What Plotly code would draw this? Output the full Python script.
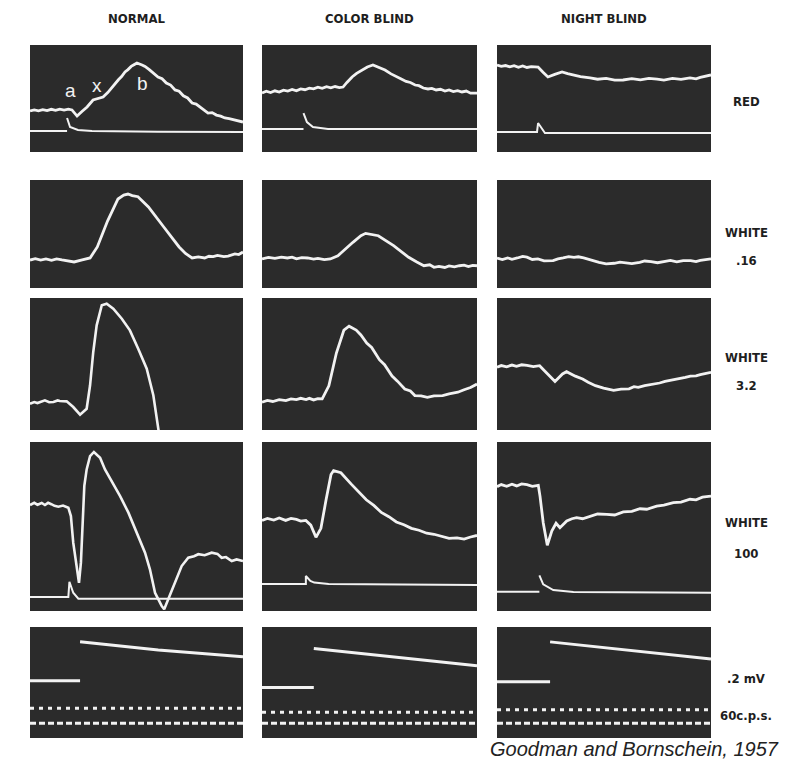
import plotly.graph_objects as go

# ---------------- text ----------------
columns = ["NORMAL", "COLOR BLIND", "NIGHT BLIND"]
row_labels = [["RED"], ["WHITE", ".16"], ["WHITE", "3.2"], ["WHITE", "100"], [".2 mV", "60c.p.s."]]
citation = "Goodman and Bornschein, 1957"
wave_letters = ["a", "x", "b"]
wave_letter_t = [18.8, 31.5, 52.6]
wave_letter_v = [57.9, 61.7, 63.6]

# ---------------- data: time (% of sweep), potential (% of panel height) ----------------
# Row 1: RED stimulus
red_normal_t = [0, 2, 4, 6, 8, 10, 12, 14, 16, 18, 19.7, 22.1, 24.5, 26.8, 29.6, 32, 34.3, 36.5, 38.5, 40, 41.5, 43, 44.6, 46, 47.5, 49, 50.2, 52.6, 54, 56, 58, 60.1, 62, 64, 66, 68.1, 70, 72, 74, 76.1, 78, 80, 82, 83.6, 85.5, 87.5, 89.5, 91.5, 93.5, 95.5, 97.5, 100]
red_normal_v = [38.3, 39.4, 38.5, 39.6, 38.7, 39.9, 38.9, 40.1, 39.2, 40.0, 39.3, 33.6, 38.0, 42.1, 48.6, 50.0, 51.4, 55.5, 60.7, 63.5, 67.5, 70.5, 74.8, 77.0, 80.0, 81.8, 83.2, 81.3, 80.0, 77.0, 74.0, 70.1, 68.5, 64.5, 62.5, 58.0, 56.8, 52.5, 50.5, 45.8, 44.8, 41.5, 39.0, 36.4, 36.8, 34.5, 33.5, 31.8, 31.2, 30.0, 29.3, 28.0]
red_normal_stim_t = [0, 17.4, None, 17.4, 18.8, 22.5, 29.1, 60, 100]
red_normal_stim_v = [19.6, 19.6, None, 31.8, 23.4, 20.6, 19.6, 19.0, 18.7]

red_cb_t = [0, 2, 4, 6, 8, 10, 12, 14, 16, 18, 20, 22, 24, 26, 28, 30, 32, 34, 36, 37.7, 39.5, 41.9, 44, 46.5, 49, 51.6, 54, 57.2, 60, 63.3, 65, 67, 69, 71.2, 73, 75, 77.2, 79, 81, 83, 85.1, 87, 89, 91, 93, 95, 97, 100]
red_cb_v = [55.1, 56.8, 55.6, 57.2, 56.0, 57.8, 57.0, 58.4, 57.2, 59.0, 58.2, 59.6, 59.0, 60.6, 59.5, 61.0, 60.0, 61.2, 60.2, 60.7, 65.0, 70.1, 73.5, 76.6, 79.5, 81.3, 79.5, 76.6, 73.0, 69.2, 68.0, 66.0, 65.0, 62.6, 62.0, 59.8, 58.9, 59.5, 58.0, 58.6, 57.0, 58.0, 56.5, 57.3, 56.1, 57.0, 55.0, 55.1]
red_cb_stim_t = [0, 19.3, None, 19.3, 20.9, 23.7, 30.7, 100]
red_cb_stim_v = [21.5, 21.5, None, 36.4, 28.0, 23.4, 21.5, 21.5]

red_nb_t = [0, 2, 4, 6, 8, 10, 12, 14, 16, 19.2, 21.5, 23.8, 27, 30.4, 33, 35.5, 39, 43.5, 47, 51, 55, 58.9, 63, 67, 71, 74.8, 78, 82, 86, 90.2, 93, 95, 97, 100]
red_nb_v = [81.3, 80.0, 80.8, 79.6, 80.6, 79.2, 80.4, 79.0, 79.8, 79.4, 74.5, 70.1, 72.5, 74.8, 73.2, 72.0, 70.5, 69.2, 68.0, 68.8, 67.2, 67.3, 68.6, 67.4, 68.8, 68.2, 67.2, 68.8, 67.8, 69.2, 68.4, 69.8, 70.6, 72.0]
red_nb_stim_t = [0, 18.7, 19.2, 22.4, 100]
red_nb_stim_v = [18.7, 18.7, 27.1, 17.8, 17.8]

# Row 2: WHITE .16
w016_normal_t = [0, 2.5, 5, 7.5, 10.1, 12.5, 15, 17.5, 20.7, 24.5, 28.2, 31.6, 36.4, 41.3, 44, 46.0, 48, 50.7, 55.6, 62.8, 70.0, 73, 76.1, 79, 82.0, 84, 86, 88, 89.2, 91, 93, 95, 96.2, 98, 100]
w016_normal_v = [25.9, 27.2, 25.8, 27.0, 25.6, 27.0, 26.0, 25.2, 24.1, 26.0, 27.8, 38.0, 62.0, 82.4, 86.0, 87.0, 85.6, 84.5, 75.0, 56.5, 38.0, 32.0, 27.8, 28.8, 27.8, 29.4, 29.0, 30.2, 29.9, 29.0, 29.5, 30.8, 31.5, 31.0, 33.3]

w016_cb_t = [0, 3, 6, 9, 11.8, 14, 16, 18.5, 21.2, 24, 26, 29, 31.8, 35.3, 42.3, 46, 48.2, 50, 54.1, 61.2, 68.2, 72, 75.3, 78, 80, 82.3, 85, 87, 89.5, 91.8, 94, 96, 98, 100]
w016_cb_v = [26.9, 28.4, 27.4, 28.6, 27.8, 28.6, 27.0, 28.2, 27.8, 26.8, 27.4, 26.2, 26.9, 29.9, 42.3, 48.5, 50.6, 50.0, 48.4, 39.2, 28.4, 24.0, 20.6, 21.5, 19.2, 20.0, 19.0, 20.4, 19.6, 20.6, 21.2, 19.8, 21.0, 20.6]

w016_nb_t = [0, 2.5, 5, 7, 9.5, 12, 14, 16.5, 19.1, 22, 26.2, 28.5, 30.9, 33.5, 36, 38, 40.5, 44, 47.7, 51, 54.8, 57.5, 60, 63, 66.7, 69, 72, 75, 78.6, 81, 84, 87, 90.5, 93, 95, 97.5, 100]
w016_nb_v = [27.8, 26.4, 27.9, 26.6, 27.8, 29.2, 28.5, 26.4, 26.9, 25.2, 25.3, 27.0, 27.8, 29.0, 28.3, 28.9, 27.8, 25.6, 23.8, 22.4, 22.9, 24.0, 23.6, 22.6, 23.8, 25.0, 24.5, 23.4, 24.7, 25.6, 24.2, 25.4, 25.3, 24.4, 25.6, 26.4, 26.9]

# Row 3: WHITE 3.2
w32_normal_t = [0, 2, 3.5, 5.5, 7.0, 9, 11, 13, 14, 17.2, 20.3, 23.5, 26.6, 28.2, 29.7, 31.3, 33.7, 36.0, 39.1, 43.1, 46.9, 50.8, 54.8, 57.9, 60.2, 60.6]
w32_normal_v = [19.9, 21.2, 20.4, 21.8, 22.5, 21.0, 21.2, 22.4, 22.0, 21.7, 17.4, 11.6, 16.1, 33.9, 59.1, 79.3, 94.5, 95.7, 91.9, 84.3, 75.5, 61.6, 46.4, 26.3, 1.0, -3]

w32_cb_t = [0, 2.5, 5, 8, 11.1, 13.5, 16, 18, 20.5, 22, 24, 26, 28.0, 31.1, 34.6, 38.1, 40.5, 43.8, 46, 48.7, 51, 54.6, 57, 60.5, 63, 66.4, 69, 71.1, 74, 76.9, 80, 84.0, 87, 91.1, 94, 97, 100]
w32_cb_v = [21.1, 22.4, 21.6, 23.0, 22.3, 23.6, 23.0, 24.0, 23.1, 24.0, 22.8, 23.8, 23.6, 33.5, 58.3, 75.7, 78.6, 75.7, 72.0, 65.8, 62.5, 53.3, 49.5, 40.9, 37.0, 31.1, 29.5, 26.1, 25.8, 24.8, 25.8, 26.1, 27.4, 28.6, 30.5, 32.2, 34.8]

w32_nb_t = [0, 2, 4.5, 7, 9.1, 11.5, 14, 17, 19.9, 23.5, 27.1, 30.6, 32.5, 36.6, 40, 42.6, 46, 49.8, 54.5, 58, 61.7, 64, 66, 69, 71.3, 74, 76, 78.5, 80.8, 83, 85, 88, 90.4, 93, 95, 97.5, 100]
w32_nb_v = [47.5, 48.8, 47.9, 49.2, 48.3, 49.4, 48.9, 48.0, 48.7, 42.5, 36.7, 42.5, 44.2, 40.8, 38.6, 36.2, 33.6, 31.7, 30.0, 31.0, 31.2, 32.8, 32.3, 33.6, 34.2, 34.8, 35.6, 36.8, 37.5, 38.2, 38.4, 39.8, 40.8, 41.0, 42.0, 42.6, 43.7]

# Row 4: WHITE 100
w100_normal_t = [0, 2, 3.5, 5.5, 7.0, 8.5, 10, 11.5, 13.3, 15.5, 18.0, 19.2, 20.3, 21.9, 23.0, 23.9, 24.6, 25.5, 26.6, 28.2, 30.0, 32.9, 35.2, 38.4, 42.3, 46.2, 50.1, 54.0, 56.3, 58.7, 61.8, 63.0, 64.9, 68.1, 71.2, 74.3, 77, 79.0, 82, 85.3, 88, 90.0, 92, 94.7, 97, 100]
w100_normal_v = [62.7, 64.0, 62.9, 63.9, 62.7, 64.0, 63.2, 62.2, 61.7, 62.4, 61.1, 56.2, 40.4, 24.7, 16.7, 28.6, 50.3, 74.0, 83.8, 91.7, 94.1, 90.7, 83.8, 76.9, 68.0, 58.2, 46.3, 34.5, 24.7, 10.8, 3.0, 1.0, 6.9, 16.7, 26.6, 31.5, 32.4, 33.6, 33.0, 34.5, 33.8, 31.5, 31.9, 29.6, 30.5, 29.6]
w100_normal_stim_t = [0, 18.0, 18.5, 20.3, 22.7, 100]
w100_normal_stim_v = [8.3, 8.3, 17.3, 10.8, 7.3, 7.3]

w100_cb_t = [0, 2.5, 5.5, 8, 11.0, 13.5, 16, 18, 20.4, 22.7, 25.1, 27.4, 29.8, 32.1, 33.3, 36.7, 41.4, 45, 48.5, 52, 55.5, 59, 62.5, 66, 69.5, 73, 76.6, 80, 83.6, 87, 90.7, 94, 97, 100]
w100_cb_v = [53.6, 54.8, 53.8, 55.0, 53.6, 54.8, 54.2, 53.2, 53.6, 50.8, 43.6, 48.9, 65.8, 80.8, 83.1, 81.8, 75.2, 70.2, 65.8, 62.5, 58.3, 55.8, 52.7, 51.0, 48.9, 47.8, 46.0, 45.4, 44.2, 43.0, 43.3, 42.6, 43.8, 44.7]
w100_cb_stim_t = [0, 20.4, 20.4, 22.5, 24.3, 31, 100]
w100_cb_stim_v = [16.0, 16.0, 20.7, 17.8, 16.8, 16.0, 15.4]

w100_nb_t = [0, 2, 4.5, 7, 9.2, 11.5, 14, 16.5, 19.3, 20.1, 21.6, 23.5, 25.6, 27.6, 29.4, 32.6, 35, 37.2, 40, 43.5, 47, 51.3, 55, 59.0, 63, 66.8, 70, 74.6, 78, 82.4, 86, 90.2, 93, 96, 100]
w100_nb_v = [73.6, 74.8, 73.8, 75.0, 74.0, 75.2, 74.8, 73.8, 74.4, 68.0, 52.2, 38.9, 47.3, 51.9, 49.3, 53.3, 54.6, 55.2, 54.6, 56.2, 57.4, 57.2, 56.8, 58.6, 59.0, 60.5, 60.2, 62.1, 62.6, 64.1, 64.4, 66.1, 65.8, 67.4, 68.0]
w100_nb_stim_t = [0, 19.8, None, 19.8, 21.6, 26.3, 35.7, 100]
w100_nb_stim_v = [11.4, 11.4, None, 21.1, 15.8, 12.4, 11.2, 10.8]

# Row 5: calibration (.2 mV step) and 60 c.p.s. timing
cal_low_t = [[0, 23.5], [0, 24.1], [0, 24.8]]
cal_low_v = [51.6, 45.4, 50.7]
cal_high_t = [[23.5, 60.2, 100], [24.1, 61.9, 100], [24.8, 62.1, 100]]
cal_high_v = [[86.8, 79.3, 73.2], [80.6, 73.0, 65.0], [86.6, 78.8, 71.1]]
timing_upper_v = [26.8, 23.2, 25.4]
timing_lower_v = [13.2, 13.4, 13.4]

# ---------------- layout geometry ----------------
W, H = 800, 771
PANEL_X = [(30, 243), (262, 477), (497, 711)]
PANEL_Y = [(45, 152), (180, 288), (298, 430), (442, 611), (627, 738)]
TRACE = "#f2f2f2"
PANEL_BG = "#2b2b2b"

fig = go.Figure()


def axname(r, c):
    n = r * 3 + c + 1
    return ("" if n == 1 else str(n))


def add_line(r, c, t, v, width=2.8, dash=None):
    s = axname(r, c)
    fig.add_trace(go.Scatter(
        x=t, y=v, mode="lines",
        line=dict(color=TRACE, width=width, dash=dash),
        xaxis="x" + s, yaxis="y" + s, hoverinfo="skip", showlegend=False,
        connectgaps=False))


panels = {
    (0, 0): [(red_normal_t, red_normal_v, 2.8), (red_normal_stim_t, red_normal_stim_v, 2.0)],
    (0, 1): [(red_cb_t, red_cb_v, 2.8), (red_cb_stim_t, red_cb_stim_v, 2.0)],
    (0, 2): [(red_nb_t, red_nb_v, 2.8), (red_nb_stim_t, red_nb_stim_v, 2.0)],
    (1, 0): [(w016_normal_t, w016_normal_v, 2.8)],
    (1, 1): [(w016_cb_t, w016_cb_v, 2.8)],
    (1, 2): [(w016_nb_t, w016_nb_v, 2.8)],
    (2, 0): [(w32_normal_t, w32_normal_v, 2.6)],
    (2, 1): [(w32_cb_t, w32_cb_v, 2.8)],
    (2, 2): [(w32_nb_t, w32_nb_v, 2.8)],
    (3, 0): [(w100_normal_t, w100_normal_v, 2.6), (w100_normal_stim_t, w100_normal_stim_v, 2.0)],
    (3, 1): [(w100_cb_t, w100_cb_v, 2.8), (w100_cb_stim_t, w100_cb_stim_v, 2.0)],
    (3, 2): [(w100_nb_t, w100_nb_v, 2.8), (w100_nb_stim_t, w100_nb_stim_v, 2.0)],
}

for (r, c), lines in panels.items():
    for t, v, w in lines:
        add_line(r, c, t, v, width=w)

for c in range(3):
    add_line(4, c, cal_low_t[c], [cal_low_v[c]] * 2, width=3)
    add_line(4, c, cal_high_t[c], cal_high_v[c], width=3)
    add_line(4, c, [0, 100], [timing_upper_v[c]] * 2, width=3, dash="4px,5px")
    add_line(4, c, [0, 100], [timing_lower_v[c]] * 2, width=3, dash="6px,3px")

layout_axes = {}
for r in range(5):
    for c in range(3):
        s = axname(r, c)
        x0, x1 = PANEL_X[c]
        y0, y1 = PANEL_Y[r]
        layout_axes["xaxis" + s] = dict(domain=[x0 / W, x1 / W], range=[0, 100], visible=False,
                                         fixedrange=True, anchor="y" + s)
        layout_axes["yaxis" + s] = dict(domain=[1 - y1 / H, 1 - y0 / H], range=[0, 100], visible=False,
                                         fixedrange=True, anchor="x" + s)

annotations = []
title_font = dict(family="Liberation Sans Narrow, Arial Narrow, DejaVu Sans Condensed, sans-serif",
                  size=13, color="#1e1e1e", weight="bold")
for c, name in enumerate(columns):
    x0, x1 = PANEL_X[c]
    annotations.append(dict(text=name, x=(x0 + x1) / 2 / W, y=1 - 18 / H, xref="paper", yref="paper",
                            showarrow=False, font=title_font, xanchor="center", yanchor="middle"))

label_y = [[102], [232, 260], [357, 385], [522, 553], [678, 715]]
for r, labels in enumerate(row_labels):
    for lab, py in zip(labels, label_y[r]):
        annotations.append(dict(text=lab, x=746 / W, y=1 - py / H, xref="paper", yref="paper",
                                showarrow=False, font=title_font, xanchor="center", yanchor="middle"))

for lab, t, v in zip(wave_letters, wave_letter_t, wave_letter_v):
    annotations.append(dict(text=lab, x=t, y=v, xref="x", yref="y", showarrow=False,
                            font=dict(family="Liberation Sans, Arial, sans-serif", size=19, color="#f2f2f2"),
                            xanchor="center", yanchor="middle"))

annotations.append(dict(text="<i>" + citation + "</i>", x=781 / W, y=1 - 749 / H, xref="paper", yref="paper",
                        showarrow=False, xanchor="right", yanchor="middle",
                        font=dict(family="Liberation Sans, Arial, sans-serif", size=20, color="#222222")))

fig.update_layout(
    width=W, height=H,
    margin=dict(l=0, r=0, t=0, b=0),
    paper_bgcolor="white",
    plot_bgcolor=PANEL_BG,
    showlegend=False,
    annotations=annotations,
    **layout_axes,
)

fig.write_html("out.html", config={"displayModeBar": False},
               post_script="document.body.style.margin='0px';document.body.style.overflow='hidden';")
